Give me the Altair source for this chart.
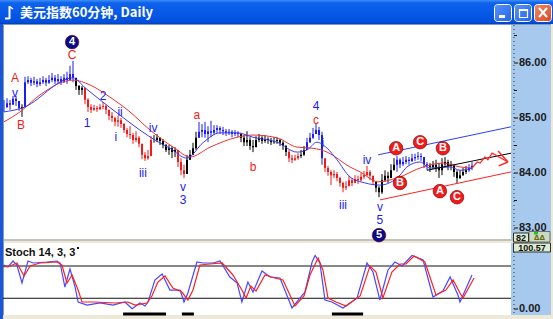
import altair as alt
import pandas as pd

# ---------------- data ----------------
TITLE = "美元指数60分钟, Daily"
STOCH_TITLE = "Stoch 14, 3, 3"

closes = [85.20, 85.27, 85.24, 85.35, 85.31, 85.18, 85.20,
          85.65, 85.69, 85.64, 85.67, 85.62, 85.65, 85.69, 85.64, 85.69, 85.73, 85.67, 85.71, 85.65, 85.73, 85.69, 85.80, 85.73,
          85.58, 85.51, 85.55,
          85.33, 85.20, 85.15, 85.18, 85.16, 85.20, 85.22, 85.15, 85.04, 85.00, 84.93, 84.96, 84.89, 84.78, 84.71, 84.69, 84.60, 84.64, 84.53, 84.33, 84.27, 84.31, 84.60,
          84.60, 84.64, 84.58, 84.51, 84.42, 84.45, 84.38, 84.42,
          84.20, 84.05, 83.98,
          84.24, 84.33, 84.45, 84.64,
          84.75, 84.78, 84.71, 84.76, 84.73, 84.78, 84.82, 84.78, 84.76, 84.73, 84.75, 84.71, 84.73, 84.71,
          84.64, 84.56, 84.60, 84.49, 84.47, 84.60, 84.64, 84.58, 84.62, 84.60, 84.56, 84.58, 84.60, 84.55, 84.49, 84.38,
          84.27, 84.24, 84.27, 84.31,
          84.33, 84.42,
          84.56, 84.64, 84.71, 84.78, 84.69, 84.27,
          84.09, 84.02, 83.96, 83.98, 83.91, 83.82, 83.73, 83.76, 83.87, 83.82, 83.89, 83.87, 83.93, 83.96, 84.02, 83.95, 83.84,
          83.73, 83.65, 83.87, 83.95, 83.91, 84.05, 84.15,
          84.24, 84.16, 84.20, 84.24, 84.22, 84.27, 84.29, 84.31, 84.29, 84.16, 84.13,
          84.11, 84.15, 84.09, 84.05, 84.16, 84.20, 84.13, 84.15, 84.02, 83.91, 83.96, 84.02, 84.05,
          84.09, 84.13]

highs = [85.33, 85.36, 85.33, 85.40, 85.40, 85.31, 85.25,
         85.75, 85.76, 85.73, 85.75, 85.71, 85.73, 85.76, 85.73, 85.78, 85.82, 85.78, 85.80, 85.76, 85.80, 85.84, 85.95, 86.04,
         85.69, 85.60, 85.58,
         85.47, 85.36, 85.25, 85.24, 85.22, 85.25, 85.29, 85.24, 85.15, 85.11, 85.02, 85.04, 85.00, 84.91, 84.82, 84.85, 84.73, 84.76, 84.67, 84.49, 84.38, 84.42, 84.67,
         84.69, 84.71, 84.65, 84.62, 84.53, 84.51, 84.49, 84.47,
         84.42, 84.27, 84.15,
         84.33, 84.42, 84.55, 84.75,
         84.93, 84.89, 84.93, 84.85, 84.95, 84.87, 84.87, 84.85, 84.84, 84.80, 84.80, 84.78, 84.78, 84.76,
         84.73, 84.69, 84.76, 84.65, 84.60, 84.67, 84.71, 84.67, 84.69, 84.65, 84.64, 84.65, 84.65, 84.62, 84.58, 84.51,
         84.42, 84.33, 84.33, 84.36,
         84.42, 84.49,
         84.64, 84.73, 84.82, 84.89, 84.84, 84.75,
         84.24, 84.13, 84.05, 84.05, 84.02, 83.93, 83.84, 83.85, 83.95, 83.91, 83.96, 83.95, 84.00, 84.04, 84.13, 84.05, 83.95,
         83.82, 83.76, 83.98, 84.05, 84.02, 84.16, 84.27,
         84.31, 84.27, 84.29, 84.31, 84.29, 84.35, 84.35, 84.38, 84.36, 84.29, 84.20,
         84.18, 84.22, 84.24, 84.18, 84.27, 84.29, 84.24, 84.22, 84.13, 84.05, 84.05, 84.09, 84.13,
         84.16, 84.20]

lows = [85.11, 85.18, 85.15, 85.25, 85.22, 85.13, 85.02,
        85.20, 85.62, 85.58, 85.60, 85.56, 85.58, 85.62, 85.58, 85.62, 85.65, 85.62, 85.64, 85.60, 85.64, 85.62, 85.69, 85.65,
        85.51, 85.42, 85.42,
        85.25, 85.11, 85.09, 85.13, 85.11, 85.15, 85.16, 85.07, 84.96, 84.93, 84.85, 84.84, 84.82, 84.73, 84.65, 84.62, 84.53, 84.56, 84.47, 84.25, 84.22, 84.24, 84.35,
        84.55, 84.56, 84.51, 84.45, 84.38, 84.33, 84.27, 84.29,
        84.11, 83.96, 83.91,
        84.02, 84.24, 84.33, 84.42,
        84.64, 84.65, 84.64, 84.56, 84.65, 84.69, 84.73, 84.71, 84.69, 84.67, 84.69, 84.65, 84.67, 84.65,
        84.56, 84.49, 84.49, 84.42, 84.38, 84.49, 84.56, 84.53, 84.55, 84.53, 84.51, 84.53, 84.53, 84.49, 84.42, 84.31,
        84.20, 84.18, 84.22, 84.24,
        84.27, 84.31,
        84.42, 84.55, 84.62, 84.71, 84.60, 84.15,
        84.02, 83.95, 83.78, 83.91, 83.85, 83.75, 83.65, 83.69, 83.80, 83.76, 83.82, 83.80, 83.85, 83.89, 83.95, 83.87, 83.78,
        83.65, 83.56, 83.62, 83.84, 83.82, 83.95, 84.05,
        84.02, 84.09, 84.13, 84.16, 84.15, 84.20, 84.22, 84.24, 84.22, 84.09, 84.05,
        84.02, 84.07, 84.02, 83.91, 83.96, 84.11, 84.05, 84.05, 83.93, 83.82, 83.89, 83.95, 83.98,
        84.02, 84.05]

# colour of each run of bars: B = up/blue, R = down/red, K = neutral/black
bar_color_runs = [("B", 6), ("K", 1), ("B", 17), ("K", 3), ("R", 23), ("K", 8), ("R", 3), ("K", 4),
                  ("B", 14), ("K", 16), ("R", 4), ("K", 2), ("B", 6), ("R", 17), ("K", 7), ("B", 11),
                  ("K", 13), ("B", 2)]

# moving averages (bar index, price)
red_ma_i = [0, 5.3, 12, 23, 28.7, 35.3, 42, 48.7, 57, 62, 68.7, 77.7, 83, 91, 97.7, 103, 107.7, 115.3, 118.7, 124.7, 131, 139.7, 146.3, 152, 156]
red_ma_p = [84.93, 85.11, 85.42, 85.69, 85.60, 85.38, 85.11, 84.78, 84.45, 84.29, 84.47, 84.65, 84.69, 84.64, 84.47, 84.45, 84.38, 84.11, 84.02, 83.84, 83.91, 84.11, 84.18, 84.11, 84.09]
blue_ma_i = [0, 6, 23, 27, 32, 38.7, 45.3, 50.3, 55.3, 61, 66.3, 72, 77.7, 83, 91, 97.7, 101, 104.3, 107.7, 111, 115.3, 120.3, 125.3, 132, 134.3, 138.7, 142, 148.7, 152, 156]
blue_ma_p = [85.11, 85.18, 85.73, 85.55, 85.33, 85.05, 84.78, 84.60, 84.45, 84.27, 84.55, 84.73, 84.73, 84.65, 84.56, 84.38, 84.42, 84.56, 84.45, 84.24, 83.93, 83.82, 83.78, 83.96, 84.11, 84.20, 84.09, 84.11, 84.05, 84.09]

# trend channel lines (start index, start price, end index, end price, colour)
channel = [(124.7, 84.33, 169, 84.84, "#2a3cff"),
           (141, 84.05, 169, 84.36, "#000000"),
           (125.3, 83.51, 169, 84.02, "#ff2020")]

# projected path
proj_i = [156, 157.7, 158.7, 160.3, 161.3, 162.7, 168]
proj_p = [84.09, 84.20, 84.18, 84.29, 84.24, 84.36, 84.20]
arrow_wings = [(164.7, 84.40, 168, 84.20), (164.9, 84.13, 168, 84.20)]

# wave labels
wave_text = ["A", "v", "B", "C", "1", "2", "ii", "i", "iv", "iii", "a", "v", "3", "b", "4", "c", "i", "iii", "iv", "v", "5"]
wave_i = [3.7, 3.7, 5.7, 22.7, 27.7, 33, 38.7, 37.3, 49.7, 46.3, 64.3, 59.7, 59.7, 83, 104, 104, 106.3, 113, 121, 125.3, 125.3]
wave_p = [85.73, 85.45, 84.87, 86.15, 84.91, 85.40, 85.11, 84.65, 84.82, 84.00, 85.05, 83.75, 83.51, 84.11, 85.22, 84.96, 84.55, 83.42, 84.24, 83.38, 83.15]
wave_col = ["R", "B", "R", "R", "B", "B", "B", "B", "B", "B", "R", "B", "B", "R", "B", "R", "B", "B", "B", "B", "B"]

# circled labels
circ_text = ["4", "5", "A", "C", "B", "B", "A", "C"]
circ_i = [22.7, 125, 130.7, 138.7, 146.3, 132, 145.3, 151]
circ_p = [86.38, 82.87, 84.45, 84.56, 84.45, 83.82, 83.67, 83.56]
circ_col = ["N", "N", "R", "R", "R", "R", "R", "R"]

# stochastic (bar index, value)
k_i = [0, 1.3, 3, 4.3, 6, 8, 9.7, 14.3, 17.7, 18.7, 20.3, 22, 23.7, 24.7, 27.7, 32, 36.3, 40.3, 42.7, 45.3, 47, 48,
       50.3, 52.7, 55.3, 58.7, 60, 61.3, 64.3, 66.3, 69.7, 72, 75.3, 77.7, 79.3, 81.3, 83, 86, 88.7, 92, 96, 98.7,
       100.3, 102.7, 103.7, 105.3, 107, 109.3, 113, 117.7, 121, 123, 125.3, 128, 130.3, 132.7, 136, 139.7, 143,
       146.3, 148.7, 151.3, 152, 156]
k_v = [81.9, 78.1, 89.3, 81.9, 48.4, 89.3, 85.6, 87.4, 89.3, 85.6, 40.9, 74.4, 40.9, 13.0, 7.4, 11.2, 7.4, 13.0, 0.5, 11.2, 5.6, 13.0,
       54.0, 65.1, 35.3, 35.3, 13.0, 29.8, 87.4, 85.6, 85.6, 89.3, 59.5, 48.4, 13.0, 50.2, 31.6, 70.7, 59.5, 57.7, 1.9, 20.5,
       31.6, 87.4, 99.5, 85.6, 16.7, 13.0, 1.9, 20.5, 85.6, 68.8, 16.7, 72.6, 87.4, 80.0, 99.5, 91.2, 22.3,
       33.5, 59.5, 26.0, 13.0, 63.3]
d_i = [0, 2, 4.3, 6.7, 8.7, 12, 17.7, 19.3, 21, 22.7, 24.7, 26, 30.3, 37, 41.3, 43.7, 47.7, 49.3, 51.3, 53.7, 56.3, 59.3,
       61.3, 63, 65.3, 68.7, 72.7, 76.3, 79.3, 80.7, 82.3, 84, 87, 90.3, 93, 97, 100, 102, 104.7, 106.3, 108, 110.7,
       114, 118.7, 122, 124, 126.3, 129.3, 132, 134, 136.7, 140.3, 144, 147.3, 149.7, 152, 153, 156.7]
d_v = [78.1, 80.0, 85.6, 61.4, 80.0, 85.6, 87.4, 81.9, 48.4, 63.3, 35.3, 13.0, 13.0, 11.2, 13.0, 7.4, 11.2, 24.2, 50.2, 61.4, 39.1, 31.6,
       16.7, 35.3, 81.9, 83.7, 85.6, 63.3, 35.3, 20.5, 42.8, 33.5, 63.3, 57.7, 54.0, 5.6, 24.2, 63.3, 94.9, 72.6, 20.5, 13.0,
       5.6, 24.2, 80.0, 68.8, 20.5, 68.8, 83.7, 83.7, 98.6, 87.4, 26.0, 35.3, 54.0, 29.8, 20.5, 57.7]
stoch_levels = [80, 20]
signal_bars = [(39.7, 54), (59.3, 63.3), (109.3, 119.7)]

price_ticks = [86, 85, 84, 83]
price_half_ticks = [86.5, 85.5, 84.5, 83.5]
stoch_low_label = "0.00"
stoch_top_label = "100.57"
last_box_label = "82"

# ---------------- build ----------------
COL = {"B": "#1c1cf2", "R": "#f21a1a", "K": "#000000", "N": "#0a0a8c"}
W, H = 553, 319
X = alt.Scale(domain=[-4 / 3, 183], nice=False, zero=False)
P = alt.Scale(domain=[81.3455, 87.1455], nice=False, zero=False)
S = alt.Scale(domain=[-18.6, 574.88], nice=False, zero=False)

assert len(closes) == len(highs) == len(lows) == sum(n for _, n in bar_color_runs)
codes = []
for c, n in bar_color_runs:
    codes += [c] * n
opens = [closes[0]] + closes[:-1]
bars = pd.DataFrame({"i": list(range(len(closes))), "open": opens, "close": closes,
                     "high": highs, "low": lows, "col": [COL[c] for c in codes]})

one = pd.DataFrame({"k": [0]})


def box(x1, x2, y1, y2, fill, stroke=None, sw=0, r=0):
    kw = {"fill": fill, "cornerRadius": r}
    if stroke:
        kw["stroke"] = stroke
        kw["strokeWidth"] = sw
    return alt.Chart(one).mark_rect(**kw).encode(
        x=alt.value(x1), x2=alt.value(x2), y=alt.value(y1), y2=alt.value(y2))


def seg(x1, y1, x2, y2, color, sw=1, dash=None):
    kw = {"color": color, "strokeWidth": sw}
    if dash:
        kw["strokeDash"] = dash
    return alt.Chart(one).mark_rule(**kw).encode(
        x=alt.value(x1), x2=alt.value(x2), y=alt.value(y1), y2=alt.value(y2))


def label(px, py, txt, size=11, color="black", weight="normal", align="left", font="Liberation Sans"):
    return alt.Chart(one).mark_text(text=txt, fontSize=size, color=color, fontWeight=weight,
                                    align=align, baseline="middle", font=font).encode(
        x=alt.value(px), y=alt.value(py))


title_grad = alt.LinearGradient(gradient="linear", x1=0, x2=0, y1=0, y2=1, stops=[
    alt.GradientStop(color="#3f8ff8", offset=0), alt.GradientStop(color="#0e62ec", offset=0.12),
    alt.GradientStop(color="#0657e6", offset=0.6), alt.GradientStop(color="#0350dc", offset=0.92),
    alt.GradientStop(color="#0340c0", offset=1)])
btn_grad = alt.LinearGradient(gradient="linear", x1=0, x2=1, y1=0, y2=1, stops=[
    alt.GradientStop(color="#5a94f8", offset=0), alt.GradientStop(color="#2563ea", offset=1)])
close_grad = alt.LinearGradient(gradient="linear", x1=0, x2=1, y1=0, y2=1, stops=[
    alt.GradientStop(color="#f08a60", offset=0), alt.GradientStop(color="#d8482a", offset=1)])

layers = []
# window frame
layers.append(alt.Chart(one).mark_rect(color=title_grad).encode(
    x=alt.value(0), x2=alt.value(W), y=alt.value(0), y2=alt.value(24)))
layers.append(box(0, 3, 24, H, "#1c56d8"))
layers.append(box(3, 511, 25, 239, "white"))
layers.append(box(3, 511, 243, 315, "white"))
layers.append(box(511, 551, 25, 239, "#a8c9ee"))
layers.append(box(511, 551, 243, 315, "#a8c9ee"))
layers.append(seg(3, 240, 551, 240, "#9a9a9a"))
layers.append(seg(3, 24.5, 551, 24.5, "#7f9db9"))
layers.append(seg(3.5, 25, 3.5, 315, "#7f9db9"))
layers.append(seg(514, 25, 514, 232, "#333333", 1, [1, 3]))
layers.append(seg(514, 252, 514, 315, "#333333", 1, [1, 3]))
# title + buttons
layers.append(seg(9.5, 6, 9.5, 19, "white", 2))
layers.append(seg(9.5, 18.5, 5, 18.5, "white", 2))
layers.append(seg(9.5, 6.5, 13, 9, "white", 1.5))
layers.append(label(20, 13, TITLE, 13, "white", "bold", font="Noto Sans CJK SC"))
layers.append(box(494.5, 511.5, 4.5, 21.5, btn_grad, "white", 1, 3))
layers.append(box(514.5, 531.5, 4.5, 21.5, btn_grad, "white", 1, 3))
layers.append(box(534.5, 551.5, 4.5, 21.5, close_grad, "white", 1, 3))
layers.append(box(499, 505, 15, 18, "white"))
layers.append(box(519.5, 527.5, 9.5, 17.5, "none", "white", 1.2))
layers.append(seg(519.5, 10, 527.5, 10, "white", 2))
layers.append(seg(539, 8, 547, 17, "white", 2))
layers.append(seg(547, 8, 539, 17, "white", 2))

# price bars
layers.append(alt.Chart(bars).mark_rule(strokeWidth=1).encode(
    x=alt.X("i:Q", scale=X, axis=None), y=alt.Y("high:Q", scale=P, axis=None),
    y2="low:Q", color=alt.Color("col:N", scale=None)))
layers.append(alt.Chart(bars).mark_rule(strokeWidth=2).encode(
    x=alt.X("i:Q", scale=X, axis=None), y=alt.Y("open:Q", scale=P, axis=None), y2="close:Q",
    color=alt.Color("col:N", scale=None)))

# price axis (ticks + labels)
pt = pd.DataFrame({"p": price_ticks, "t": [f"{v:.2f}" for v in price_ticks]})
layers.append(alt.Chart(pt).mark_rule(color="#111111").encode(
    x=alt.value(514), x2=alt.value(518), y=alt.Y("p:Q", scale=P, axis=None)))
layers.append(alt.Chart(pt).mark_text(font="Liberation Sans", fontSize=11, fontWeight="bold",
                                      color="#1a1a1a", align="left", baseline="middle").encode(
    x=alt.value(519), y=alt.Y("p:Q", scale=P, axis=None), text="t:N"))
layers.append(alt.Chart(pd.DataFrame({"p": price_half_ticks})).mark_rule(color="#111111").encode(
    x=alt.value(514), x2=alt.value(517), y=alt.Y("p:Q", scale=P, axis=None)))

# moving averages
layers.append(alt.Chart(pd.DataFrame({"i": red_ma_i, "p": red_ma_p})).mark_line(
    color="#f03030", strokeWidth=1, interpolate="monotone").encode(
    x=alt.X("i:Q", scale=X, axis=None), y=alt.Y("p:Q", scale=P, axis=None)))
layers.append(alt.Chart(pd.DataFrame({"i": blue_ma_i, "p": blue_ma_p})).mark_line(
    color="#3a3af0", strokeWidth=1, interpolate="monotone").encode(
    x=alt.X("i:Q", scale=X, axis=None), y=alt.Y("p:Q", scale=P, axis=None)))

# channel lines
ch = pd.DataFrame(channel, columns=["i", "p", "i2", "p2", "col"])
layers.append(alt.Chart(ch).mark_rule(strokeWidth=1).encode(
    x=alt.X("i:Q", scale=X, axis=None), x2="i2:Q", y=alt.Y("p:Q", scale=P, axis=None), y2="p2:Q",
    color=alt.Color("col:N", scale=None)))

# projection + arrow
layers.append(alt.Chart(pd.DataFrame({"i": proj_i, "p": proj_p})).mark_line(
    color="#ff2a2a", strokeWidth=1.3).encode(
    x=alt.X("i:Q", scale=X, axis=None), y=alt.Y("p:Q", scale=P, axis=None)))
aw = pd.DataFrame(arrow_wings, columns=["i", "p", "i2", "p2"])
layers.append(alt.Chart(aw).mark_rule(color="#ff2a2a", strokeWidth=1.5).encode(
    x=alt.X("i:Q", scale=X, axis=None), x2="i2:Q", y=alt.Y("p:Q", scale=P, axis=None), y2="p2:Q"))

# wave labels
wl = pd.DataFrame({"t": wave_text, "i": wave_i, "p": wave_p, "col": [COL[c] for c in wave_col]})
layers.append(alt.Chart(wl).mark_text(font="Liberation Sans", fontSize=12, baseline="middle").encode(
    x=alt.X("i:Q", scale=X, axis=None), y=alt.Y("p:Q", scale=P, axis=None), text="t:N",
    color=alt.Color("col:N", scale=None)))

cl = pd.DataFrame({"t": circ_text, "i": circ_i, "p": circ_p, "col": [COL[c] for c in circ_col]})
layers.append(alt.Chart(cl).mark_circle(size=185, opacity=1, stroke="#6a0000", strokeWidth=0.6).encode(
    x=alt.X("i:Q", scale=X, axis=None), y=alt.Y("p:Q", scale=P, axis=None),
    color=alt.Color("col:N", scale=None)))
layers.append(alt.Chart(cl).mark_text(font="Liberation Sans", fontSize=11, fontWeight="bold",
                                      color="white", baseline="middle").encode(
    x=alt.X("i:Q", scale=X, axis=None), y=alt.Y("p:Q", scale=P, axis=None), text="t:N"))

# axis boxes
layers.append(box(513.5, 528.5, 233, 242, "#dcecd4", "#303030", 1))
layers.append(label(521, 237.5, last_box_label, 9, "#111111", "bold", "center"))
layers.append(box(529, 550, 231.5, 242, "#c9d9c2", "#303030", 0.6))
layers.append(label(539.5, 237.5, "ΔΔ", 7, "#6a6a10", "bold", "center", "DejaVu Sans"))
layers.append(box(534, 538, 232, 234.5, "#20c020"))
layers.append(box(513.5, 550.5, 243, 252, "#dcecd4", "#303030", 1))
layers.append(label(532, 248, stoch_top_label, 9, "#111111", "bold", "center"))

# stochastic panel
layers.append(alt.Chart(pd.DataFrame({"s": stoch_levels})).mark_rule(color="#111111", strokeWidth=1).encode(
    x=alt.value(3), x2=alt.value(511), y=alt.Y("s:Q", scale=S, axis=None)))
layers.append(alt.Chart(pd.DataFrame({"i": k_i, "s": k_v})).mark_line(color="#4848ff", strokeWidth=1.2).encode(
    x=alt.X("i:Q", scale=X, axis=None), y=alt.Y("s:Q", scale=S, axis=None)))
layers.append(alt.Chart(pd.DataFrame({"i": d_i, "s": d_v})).mark_line(color="#ff2020", strokeWidth=1.2).encode(
    x=alt.X("i:Q", scale=X, axis=None), y=alt.Y("s:Q", scale=S, axis=None)))
sb = pd.DataFrame(signal_bars, columns=["i", "i2"])
sb["s"] = -9.3
layers.append(alt.Chart(sb).mark_rule(color="black", strokeWidth=3).encode(
    x=alt.X("i:Q", scale=X, axis=None), x2="i2:Q", y=alt.Y("s:Q", scale=S, axis=None)))
layers.append(label(5, 253, STOCH_TITLE, 11, "#111111", "bold"))
layers.append(box(77, 79, 247, 249, "#111111"))
layers.append(alt.Chart(pd.DataFrame({"s": [0]})).mark_rule(color="#111111").encode(
    x=alt.value(514), x2=alt.value(518), y=alt.Y("s:Q", scale=S, axis=None)))
layers.append(alt.Chart(pd.DataFrame({"s": [0], "t": [stoch_low_label]})).mark_text(
    font="Liberation Sans", fontSize=11, fontWeight="bold", color="#1a1a1a", align="left", baseline="middle").encode(
    x=alt.value(519), y=alt.Y("s:Q", scale=S, axis=None), text="t:N"))

chart = alt.layer(*layers).resolve_scale(y="independent", color="independent").properties(
    width=W, height=H, autosize=alt.AutoSizeParams(type="none"), padding=0, background="#ece9d8"
).configure_view(strokeWidth=0)

chart.save("out.html", embed_options={"renderer": "svg", "actions": False})
